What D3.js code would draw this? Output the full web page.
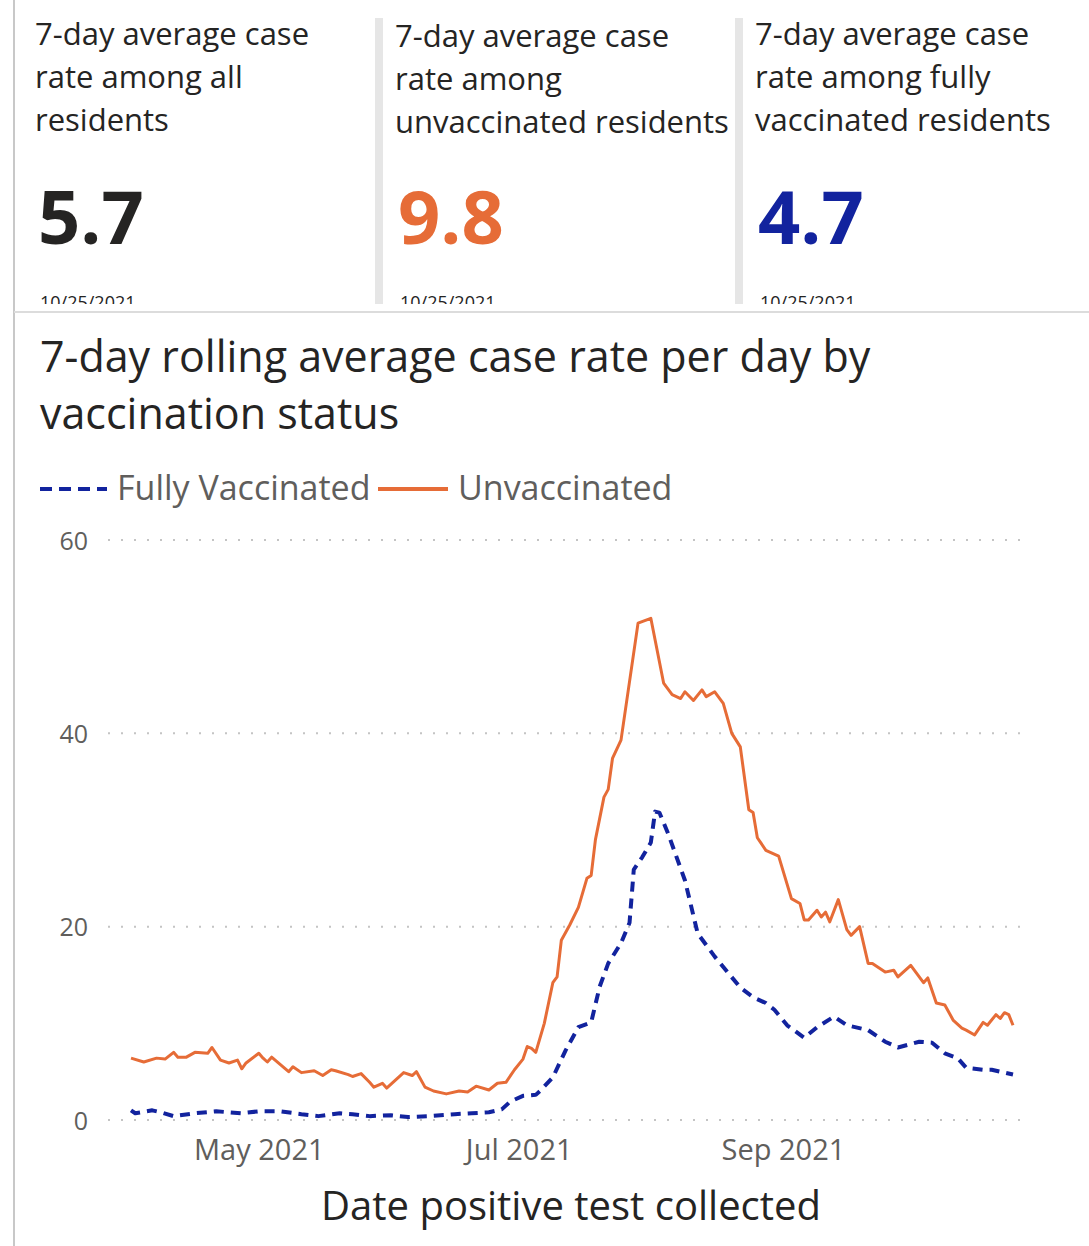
<!DOCTYPE html>
<html>
<head>
<meta charset="utf-8">
<script src="https://cdn.jsdelivr.net/npm/d3@7"></script>
<style>
  body { margin: 0; background: #fff; }
  svg { display: block; font-family: "Open Sans", "Noto Sans", sans-serif; }
</style>
</head>
<body>
<svg id="chart" width="1089" height="1246"></svg>
<script>
// card values
var cardTitles = [
  ["7-day average case", "rate among all", "residents"],
  ["7-day average case", "rate among", "unvaccinated residents"],
  ["7-day average case", "rate among fully", "vaccinated residents"]
];
var cardValues = ["5.7", "9.8", "4.7"];
var cardDate = "10/25/2021";

// series
var unvaxDates = ["2021-04-01","2021-04-04","2021-04-07","2021-04-09","2021-04-11","2021-04-12","2021-04-14","2021-04-16","2021-04-19","2021-04-20",
  "2021-04-22","2021-04-24","2021-04-26","2021-04-27","2021-04-28","2021-05-01","2021-05-02","2021-05-03","2021-05-04","2021-05-08",
  "2021-05-09","2021-05-11","2021-05-14","2021-05-16","2021-05-18","2021-05-19","2021-05-22","2021-05-23","2021-05-25","2021-05-27",
  "2021-05-28","2021-05-30","2021-05-31","2021-06-02","2021-06-04","2021-06-06","2021-06-07","2021-06-09","2021-06-11","2021-06-14",
  "2021-06-17","2021-06-19","2021-06-21","2021-06-24","2021-06-26","2021-06-28","2021-06-30","2021-07-02","2021-07-03","2021-07-04",
  "2021-07-05","2021-07-07","2021-07-09","2021-07-10","2021-07-11","2021-07-13","2021-07-15","2021-07-17","2021-07-18","2021-07-19",
  "2021-07-21","2021-07-22","2021-07-23","2021-07-25","2021-07-29","2021-08-01","2021-08-04","2021-08-06","2021-08-08","2021-08-09",
  "2021-08-11","2021-08-13","2021-08-14","2021-08-16","2021-08-18","2021-08-20","2021-08-22","2021-08-24","2021-08-25","2021-08-26",
  "2021-08-28","2021-08-31","2021-09-03","2021-09-05","2021-09-06","2021-09-07","2021-09-09","2021-09-10","2021-09-11","2021-09-12",
  "2021-09-14","2021-09-16","2021-09-17","2021-09-19","2021-09-21","2021-09-22","2021-09-25","2021-09-27","2021-09-28","2021-10-01",
  "2021-10-04","2021-10-05","2021-10-07","2021-10-09","2021-10-11","2021-10-13","2021-10-14","2021-10-16","2021-10-18","2021-10-19",
  "2021-10-21","2021-10-22","2021-10-23","2021-10-24","2021-10-25"];
var unvaxValues = [6.4,6.0,6.4,6.3,7.0,6.5,6.5,7.0,6.9,7.5,
  6.2,5.9,6.2,5.3,5.9,6.9,6.4,6.0,6.5,5.0,
  5.5,4.9,5.1,4.6,5.2,5.1,4.7,4.5,4.8,3.9,
  3.4,3.8,3.3,4.1,4.9,4.6,5.0,3.4,3.0,2.7,
  3.0,2.9,3.5,3.1,3.8,3.9,5.2,6.3,7.6,7.4,
  7.0,10.0,14.2,14.8,18.6,20.2,22.0,25.0,25.3,29.0,
  33.4,34.2,37.4,39.3,51.4,51.9,45.2,44.0,43.6,44.3,
  43.4,44.5,43.8,44.3,43.1,40.0,38.6,32.1,31.8,29.2,
  27.9,27.3,22.9,22.4,20.7,20.7,21.7,21.0,21.5,20.5,
  22.8,19.7,19.1,20.0,16.2,16.2,15.3,15.5,14.8,16.0,
  14.2,14.7,12.1,11.9,10.3,9.5,9.3,8.8,10.1,9.8,
  10.9,10.5,11.1,10.9,9.8];

var vaxDates = ["2021-04-01","2021-04-02","2021-04-06","2021-04-08","2021-04-11","2021-04-16","2021-04-21","2021-04-27","2021-05-01","2021-05-06",
  "2021-05-11","2021-05-15","2021-05-20","2021-05-23","2021-05-27","2021-06-01","2021-06-05","2021-06-10","2021-06-16","2021-06-20",
  "2021-06-24","2021-06-27","2021-06-29","2021-07-02","2021-07-05","2021-07-06","2021-07-09","2021-07-12","2021-07-15","2021-07-18",
  "2021-07-20","2021-07-22","2021-07-25","2021-07-27","2021-07-28","2021-07-30","2021-08-01","2021-08-02","2021-08-03","2021-08-05",
  "2021-08-09","2021-08-12","2021-08-16","2021-08-19","2021-08-22","2021-08-25","2021-08-28","2021-08-30","2021-09-02","2021-09-06",
  "2021-09-09","2021-09-13","2021-09-16","2021-09-21","2021-09-25","2021-09-28","2021-10-03","2021-10-06","2021-10-09","2021-10-12",
  "2021-10-14","2021-10-18","2021-10-20","2021-10-25"];
var vaxValues = [1.0,0.7,1.0,0.8,0.4,0.7,0.9,0.7,0.9,0.9,
  0.6,0.4,0.7,0.6,0.4,0.5,0.3,0.4,0.6,0.7,
  0.8,1.1,1.9,2.5,2.6,3.0,4.4,7.2,9.6,10.1,
  13.8,16.2,18.3,20.4,25.9,27.2,28.7,31.9,31.8,29.7,
  24.8,19.3,16.9,15.3,13.7,12.7,12.1,11.4,9.8,8.5,
  9.6,10.7,9.8,9.3,8.1,7.5,8.1,8.0,6.9,6.4,
  5.4,5.2,5.2,4.7];

var yTicks = [0, 20, 40, 60];
var xTickDates = ["2021-05-01", "2021-07-01", "2021-09-01"];
var seriesNames = ["Fully Vaccinated", "Unvaccinated"];

var orange = "#E66C37", navy = "#12239E", dark = "#252423", gray = "#605E5C";
var parse = d3.timeParse("%Y-%m-%d");

var svg = d3.select("#chart");

// frame lines
svg.append("line").attr("x1", 14).attr("x2", 14).attr("y1", 0).attr("y2", 1246)
  .attr("stroke", "#c8c8c8").attr("stroke-width", 2);
svg.append("line").attr("x1", 14).attr("x2", 1089).attr("y1", 312).attr("y2", 312)
  .attr("stroke", "#dcdcdc").attr("stroke-width", 2);

// cards
var cardX = [35, 395, 755];
var cardColors = [dark, orange, navy];
svg.append("clipPath").attr("id", "cardclip").append("rect")
  .attr("x", 0).attr("y", 0).attr("width", 1089).attr("height", 304);

[375, 735].forEach(function(x) {
  svg.append("rect").attr("x", x).attr("y", 18).attr("width", 8).attr("height", 286)
    .attr("fill", "#e6e6e6");
});

cardTitles.forEach(function(lines, i) {
  var g = svg.append("g").attr("clip-path", "url(#cardclip)");
  lines.forEach(function(t, j) {
    g.append("text").attr("x", cardX[i]).attr("y", 45 + (i == 1 ? 2 : 0) + j * 43)
      .attr("font-size", 31).attr("font-weight", 500).attr("fill", dark).text(t);
  });
  g.append("text").attr("x", cardX[i] + 3).attr("y", 244)
    .attr("font-size", 74).attr("font-weight", 700).attr("fill", cardColors[i])
    .text(cardValues[i]);
  g.append("text").attr("x", cardX[i] + 5).attr("y", 309)
    .attr("font-size", 18).attr("fill", dark).text(cardDate);
});

// chart title
svg.append("text").attr("x", 40).attr("y", 372).attr("font-size", 43)
  .attr("font-weight", 500).attr("fill", dark)
  .text("7-day rolling average case rate per day by");
svg.append("text").attr("x", 40).attr("y", 429).attr("font-size", 43)
  .attr("font-weight", 500).attr("fill", dark)
  .text("vaccination status");

// legend
svg.append("line").attr("x1", 40).attr("x2", 107).attr("y1", 489).attr("y2", 489)
  .attr("stroke", navy).attr("stroke-width", 4).attr("stroke-dasharray", "12,7");
svg.append("text").attr("x", 117).attr("y", 500).attr("font-size", 34)
  .attr("font-weight", 500).attr("fill", gray).text(seriesNames[0]);
svg.append("line").attr("x1", 378).attr("x2", 448).attr("y1", 489).attr("y2", 489)
  .attr("stroke", orange).attr("stroke-width", 4);
svg.append("text").attr("x", 458).attr("y", 500).attr("font-size", 34)
  .attr("font-weight", 500).attr("fill", gray).text(seriesNames[1]);

// scales
var x = d3.scaleTime()
  .domain([parse("2021-04-01"), parse("2021-10-25")])
  .range([131, 1013]);
var y = d3.scaleLinear().domain([0, 60]).range([1120, 540]);

// gridlines
svg.append("g").selectAll("line").data(yTicks).enter().append("line")
  .attr("x1", 108).attr("x2", 1030)
  .attr("y1", d => y(d)).attr("y2", d => y(d))
  .attr("stroke", "#c4c4c4").attr("stroke-width", 2)
  .attr("stroke-dasharray", "2,11");

// y axis
var yAxis = svg.append("g").attr("transform", "translate(90,0)")
  .call(d3.axisLeft(y).tickValues(yTicks).tickSize(0).tickPadding(2));
yAxis.select(".domain").remove();
yAxis.selectAll("text").attr("font-size", 25).attr("fill", gray)
  .attr("font-family", "Open Sans").attr("dy", "0.36em");

// x axis
var xAxis = svg.append("g").attr("transform", "translate(0,1130)")
  .call(d3.axisBottom(x).tickValues(xTickDates.map(parse))
    .tickFormat(d3.timeFormat("%b %Y")).tickSize(0).tickPadding(0));
xAxis.select(".domain").remove();
xAxis.selectAll("text").attr("font-size", 29).attr("fill", gray)
  .attr("font-family", "Open Sans").attr("dy", "1.05em");

svg.append("text").attr("x", 571).attr("y", 1220).attr("text-anchor", "middle")
  .attr("font-size", 40).attr("font-weight", 500).attr("fill", dark)
  .text("Date positive test collected");

// lines
var line = d3.line().x(d => x(d.date)).y(d => y(d.value));
var unvax = unvaxDates.map((d, i) => ({date: parse(d), value: unvaxValues[i]}));
var vax = vaxDates.map((d, i) => ({date: parse(d), value: vaxValues[i]}));

svg.append("path").datum(unvax).attr("d", line)
  .attr("fill", "none").attr("stroke", orange).attr("stroke-width", 3)
  .attr("stroke-linejoin", "round");
svg.append("path").datum(vax).attr("d", line)
  .attr("fill", "none").attr("stroke", navy).attr("stroke-width", 4)
  .attr("stroke-dasharray", "10,7").attr("stroke-linejoin", "round");
</script>
</body>
</html>
